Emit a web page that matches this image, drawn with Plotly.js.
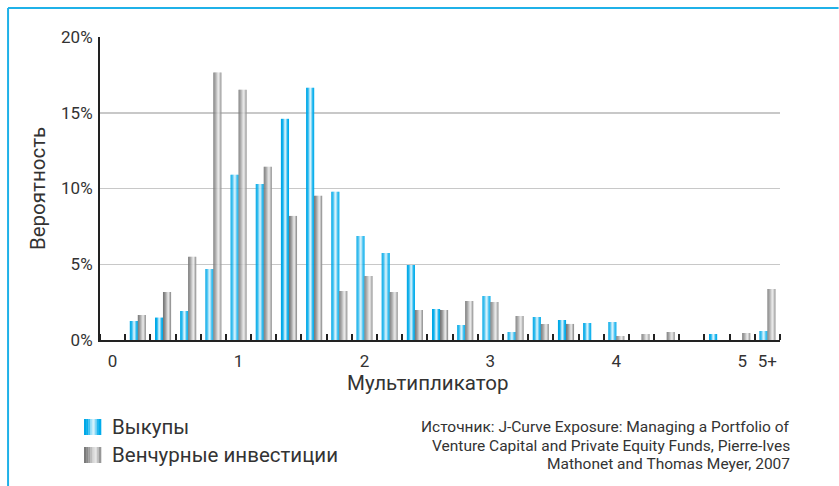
<!DOCTYPE html>
<html>
<head>
<meta charset="utf-8">
<script src="https://cdn.plot.ly/plotly-3.0.1.min.js"></script>
<style>
  html, body { margin: 0; padding: 0; background: #fff; }
  #chart { width: 839px; height: 486px; }
</style>
</head>
<body>
<div id="chart"></div>
<script>
// ---- data ----
const binCenters = [0, 0.2, 0.4, 0.6, 0.8, 1.0, 1.2, 1.4, 1.6, 1.8, 2.0, 2.2, 2.4, 2.6, 2.8, 3.0, 3.2, 3.4, 3.6, 3.8, 4.0, 4.2, 4.4, 4.6, 4.8, 5.0, 5.2];
const buyouts = [0, 1.26, 1.48, 1.92, 4.69, 10.9, 10.3, 14.6, 16.65, 9.78, 6.87, 5.74, 4.95, 2.05, 0.99, 2.9, 0.53, 1.52, 1.32, 1.12, 1.19, 0, 0, 0, 0.4, 0, 0.59];
const venture = [0, 1.65, 3.17, 5.49, 17.65, 16.52, 11.43, 8.19, 9.52, 3.24, 4.23, 3.17, 1.98, 1.98, 2.58, 2.51, 1.59, 1.06, 1.06, 0, 0.26, 0.4, 0.53, 0, 0, 0.46, 3.37];
const xTickVals = [0, 1, 2, 3, 4, 5, 5.2];
const xTickText = ['0', '1', '2', '3', '4', '5', '5+'];
const yTickVals = [0, 5, 10, 15, 20];
const yTickText = ['0%', '5%', '10%', '15%', '20%'];
const seriesNames = ['Выкупы', 'Венчурные инвестиции'];
const xTitle = 'Мультипликатор';
const yTitle = 'Вероятность';
const sourceLines = [
  'Источник: J-Curve Exposure: Managing a Portfolio of',
  'Venture Capital and Private Equity Funds, Pierre-Ives',
  'Mathonet and Thomas Meyer, 2007'
];

// ---- styles ----
const blueGrad = ['#00a8e6', '#08aeeb', '#43c1f1', '#a6e2f8', '#d4f2fc', '#86d6f5', '#22b7ee', '#00acec'];
const grayGrad = ['#7a7a7a', '#8a8a8a', '#a0a0a0', '#bcbcbc', '#d8d8d8', '#e6e6e6', '#c2c2c2', '#989898'];
const FONT = 'Roboto, "Open Sans", sans-serif';
const TXT = '#333333';
const BAR_W = 0.0635;

const traces = [];
function addBar(values, grad, startOffset, name) {
  const n = grad.length;
  const sw = BAR_W / n;
  grad.forEach((c, i) => {
    traces.push({
      type: 'bar',
      x: binCenters,
      y: values,
      name: name,
      width: sw * 1.15,
      offset: startOffset + i * sw,
      marker: { color: c, line: { width: 0 } },
      showlegend: false,
      hoverinfo: i === 0 ? 'x+y+name' : 'skip'
    });
  });
}
addBar(buyouts, blueGrad, -BAR_W, seriesNames[0]);
addBar(venture, grayGrad, 0, seriesNames[1]);

// pixel -> paper helpers (plot area: x 100..780.4, y 340..37)
const L = 100, R = 780.4, T = 37, B = 340;
const px = v => (v - L) / (R - L);
const py = v => (B - v) / (B - T);

const shapes = [];
// frame lines (top & left)
shapes.push({ type: 'line', xref: 'paper', yref: 'paper', x0: px(8), x1: px(839), y0: py(8), y1: py(8), line: { color: '#1fb1e8', width: 2 } });
shapes.push({ type: 'line', xref: 'paper', yref: 'paper', x0: px(8), x1: px(8), y0: py(8), y1: py(486), line: { color: '#1fb1e8', width: 2 } });

// legend swatches
function swatch(x0, y0, w, h, grad) {
  const n = grad.length, sw = w / n;
  grad.forEach((c, i) => {
    shapes.push({ type: 'rect', xref: 'paper', yref: 'paper',
      x0: px(x0 + i * sw), x1: px(x0 + (i + 1) * sw + 0.3), y0: py(y0), y1: py(y0 + h),
      fillcolor: c, line: { width: 0 } });
  });
}
swatch(84, 419, 17, 16, blueGrad);
swatch(84, 447, 17, 16, grayGrad);

const annotations = [
  { xref: 'paper', yref: 'paper', x: px(110), y: py(427), xanchor: 'left', yanchor: 'middle', showarrow: false,
    text: seriesNames[0], font: { family: FONT, size: 20.5, color: TXT } },
  { xref: 'paper', yref: 'paper', x: px(110), y: py(455), xanchor: 'left', yanchor: 'middle', showarrow: false,
    text: seriesNames[1], font: { family: FONT, size: 20.5, color: TXT } },
  { xref: 'paper', yref: 'paper', x: px(428), y: py(383), xanchor: 'center', yanchor: 'middle', showarrow: false,
    text: xTitle, font: { family: FONT, size: 20.5, color: TXT } },
  { xref: 'paper', yref: 'paper', x: px(38), y: py(189), xanchor: 'center', yanchor: 'middle', showarrow: false, textangle: -90,
    text: yTitle, font: { family: FONT, size: 20.5, color: TXT } }
];
sourceLines.forEach((line, i) => {
  annotations.push({ xref: 'paper', yref: 'paper', x: px(792), y: py(427 + i * 18.5), xanchor: 'right', yanchor: 'middle',
    showarrow: false, align: 'right', text: line, font: { family: FONT, size: 15.5, color: TXT } });
});

const layout = {
  width: 839, height: 486,
  margin: { l: L, r: 839 - R, t: T, b: 486 - B, pad: 0 },
  paper_bgcolor: '#ffffff', plot_bgcolor: '#ffffff',
  barmode: 'overlay',
  showlegend: false,
  font: { family: FONT, color: TXT },
  xaxis: {
    range: [-0.1, 5.3], tickmode: 'array', tickvals: xTickVals, ticktext: xTickText,
    ticks: '', showgrid: false, zeroline: false,
    showline: true, linecolor: '#222222', linewidth: 2,
    tickfont: { family: FONT, size: 17, color: TXT },
    ticklabelstandoff: 5,
    minor: { tickmode: 'linear', tick0: 0.1, dtick: 0.2, ticks: 'inside', ticklen: 6, tickwidth: 2, tickcolor: '#222222', showgrid: false }
  },
  yaxis: {
    range: [0, 20], tickmode: 'array', tickvals: yTickVals, ticktext: yTickText,
    ticks: '', showgrid: true, gridcolor: '#c8c8c8', gridwidth: 1.5, zeroline: false,
    showline: true, linecolor: '#222222', linewidth: 2,
    tickfont: { family: FONT, size: 17, color: TXT },
    ticklabelstandoff: 2
  },
  shapes: shapes,
  annotations: annotations
};

Plotly.newPlot('chart', traces, layout, { displayModeBar: false, staticPlot: true });
</script>
</body>
</html>
